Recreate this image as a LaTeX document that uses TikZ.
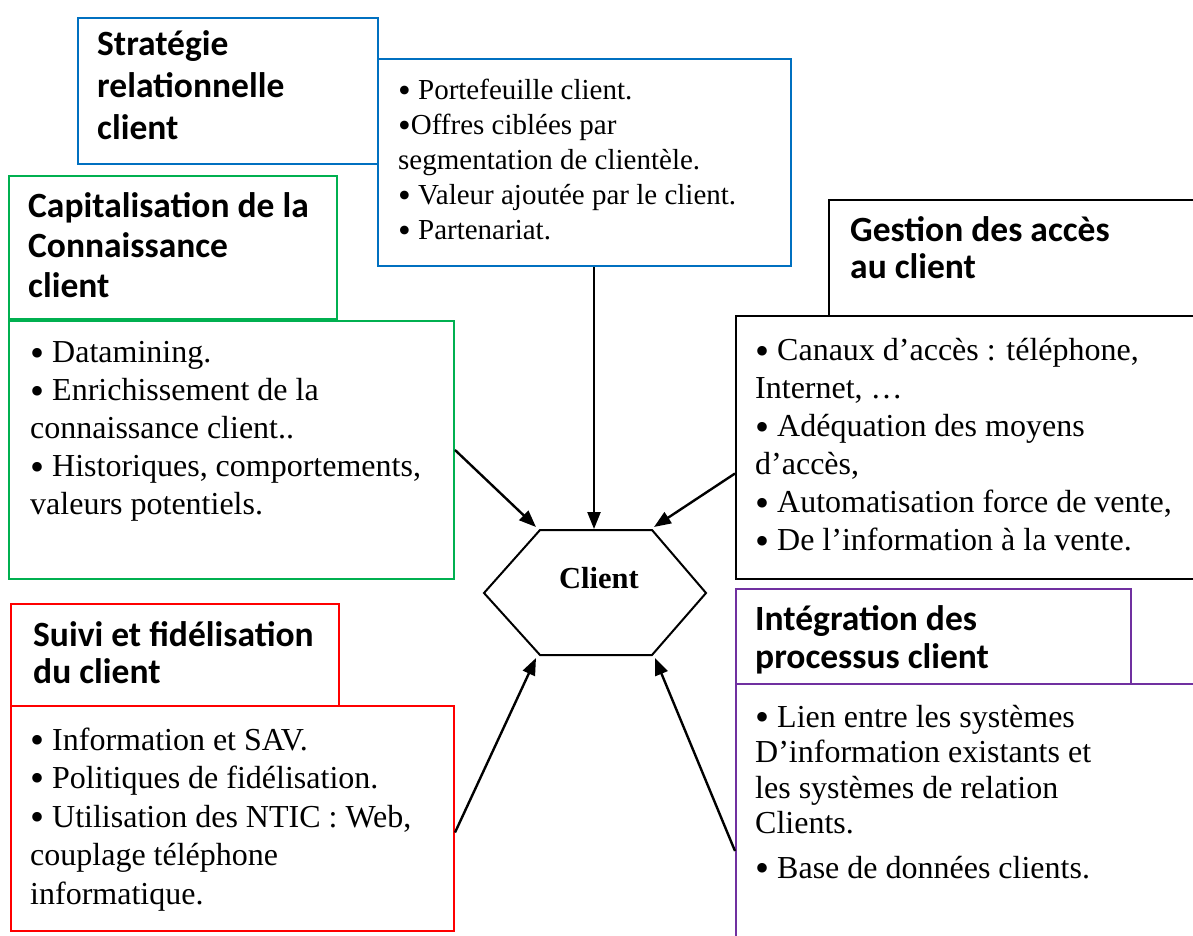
\documentclass[tikz,border=0pt]{standalone}
\usepackage{fontspec}
\setmainfont{Liberation Serif}
\newfontfamily\headfont{Carlito}
\usetikzlibrary{arrows.meta}
\definecolor{cblue}{RGB}{0,112,192}
\definecolor{cgreen}{RGB}{0,176,80}
\definecolor{cred}{RGB}{255,0,0}
\definecolor{cpurple}{RGB}{112,48,160}
\newcommand\bul{\raisebox{-0.1em}{\scalebox{1.25}{•}}}
\begin{document}
\begin{tikzpicture}[x=1pt,y=-1pt,
  box/.style={draw, line width=2pt, inner sep=0pt, anchor=north west},
  head/.style={anchor=north west, inner sep=0pt, align=left,
    font=\headfont\bfseries\fontsize{35.5}{#1}\selectfont},
  body/.style args={#1/#2}{anchor=north west, inner sep=0pt, align=left,
    font=\fontsize{#1}{#2}\selectfont},
  link/.style={line width=2.4pt, -{Triangle[length=17pt,width=13pt]}},
  hexline/.style={line width=2pt, line join=miter}]
\clip (0,0) rectangle (1193,936);
\fill[white] (0,0) rectangle (1193,936);

% Blue
\node[box, draw=cblue, minimum width=300pt, minimum height=146pt] (bt) at (77,17) {};
\node[box, draw=cblue, minimum width=413pt, minimum height=207pt] (bc) at (377,58) {};
\node[head=42] (btx) at (97,26) {\strut Stratégie\\relationnelle\\client};
\node[body=29/35] (bcx) at (398,75) {\strut \bul{} Portefeuille client.\\\bul Offres ciblées par\\segmentation de clientèle.\\\bul{} Valeur ajoutée par le client.\\\bul{} Partenariat.};

% Green
\node[box, draw=cgreen, minimum width=328pt, minimum height=143pt] (gt) at (8,175) {};
\node[box, draw=cgreen, minimum width=445pt, minimum height=258pt] (gc) at (8,320) {};
\node[head=40] (gtx) at (28,189) {\strut Capitalisation de la\\Connaissance\\client};
\node[body=32/38] (gcx) at (30,336) {\strut \bul{} Datamining.\\\bul{} Enrichissement de la\\connaissance client..\\\bul{} Historiques, comportements,\\valeurs potentiels.};

% Black
\node[box, draw=black, minimum width=400pt, minimum height=116pt] (kt) at (828,199) {};
\node[box, draw=black, minimum width=500pt, minimum height=263pt] (kc) at (735,315) {};
\node[head=37] (ktx) at (850,215) {\strut Gestion des accès\\au client};
\node[body=32/38] (kcx) at (755,334) {\strut \bul{} Canaux d’accès : téléphone,\\Internet, …\\\bul{} Adéquation des moyens\\d’accès,\\\bul{} Automatisation force de vente,\\\bul{} De l’information à la vente.};

% Red
\node[box, draw=cred, minimum width=328pt, minimum height=102pt] (rt) at (10,603) {};
\node[box, draw=cred, minimum width=443pt, minimum height=225pt] (rc) at (10,705) {};
\node[head=37] (rtx) at (33,620) {\strut Suivi et fidélisation\\du client};
\node[body=32/38.5] (rcx) at (30,723) {\strut \bul{} Information et SAV.\\\bul{} Politiques de fidélisation.\\\bul{} Utilisation des NTIC : Web,\\couplage téléphone\\informatique.};

% Purple
\node[box, draw=cpurple, minimum width=395pt, minimum height=95pt] (pt) at (735,588) {};
\node[box, draw=cpurple, minimum width=500pt, minimum height=300pt] (pc) at (735,683) {};
\node[head=38] (ptx) at (755,604) {\strut Intégration des\\processus client};
\node[body=32/35.5] (pcx) at (755,702) {\strut \bul{} Lien entre les systèmes\\D’information existants et\\les systèmes de relation\\Clients.\\[9pt]\bul{} Base de données clients.};

% Hexagon
\coordinate (hTL) at (540,530);
\coordinate (hTR) at (652,530);
\coordinate (hR) at (706,593);
\coordinate (hBR) at (652,655);
\coordinate (hBL) at (540,655);
\coordinate (hL) at (484,593);
\draw[hexline] (hTL) -- (hTR) -- (hR) -- (hBR) -- (hBL) -- (hL) -- cycle;
\node[font=\bfseries\fontsize{30.5}{36}\selectfont, inner sep=0pt] (hex) at (599,578) {Client};

% Arrow ends
\coordinate (aTop) at (594,529);
\coordinate (aTL) at (536,527);
\coordinate (aTR) at (654,527);
\coordinate (aBL) at (536,658);
\coordinate (aBR) at (655,658);
\path (kc.west) ++(0,26) coordinate (ks);
\path (rc.east) ++(0,14) coordinate (rs);
\path (pc.west) ++(0,17) coordinate (ps);

\draw[link] (bc.south -| aTop) -- (aTop);
\draw[link] (gc.east) -- (aTL);
\draw[link] (ks) -- (aTR);
\draw[link] (rs) -- (aBL);
\draw[link] (ps) -- (aBR);
\end{tikzpicture}
\end{document}
